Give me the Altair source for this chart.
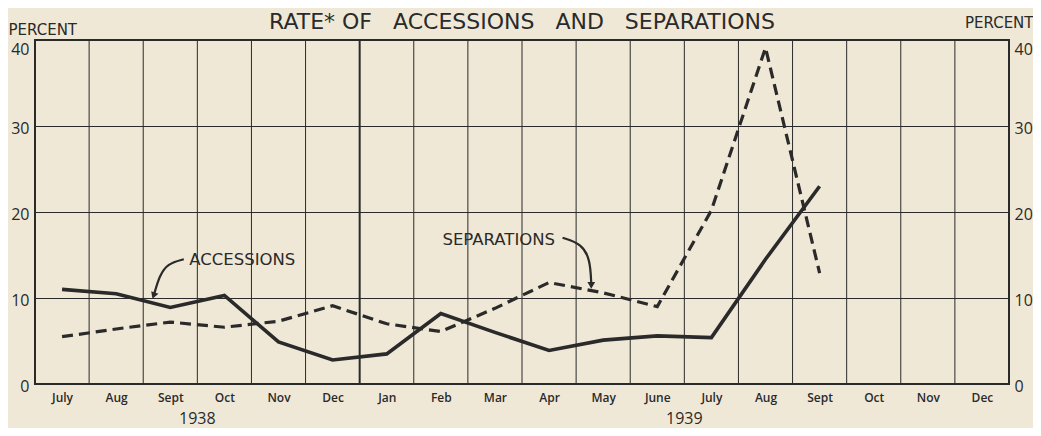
import json
import altair as alt
import pandas as pd

months = ["July", "Aug", "Sept", "Oct", "Nov", "Dec", "Jan", "Feb", "Mar",
          "Apr", "May", "June", "July", "Aug", "Sept", "Oct", "Nov", "Dec"]
accessions = [11.0, 10.5, 8.9, 10.3, 4.9, 2.8, 3.5, 8.2, 6.0, 3.9, 5.1, 5.6, 5.4, 14.5, 23.0]
separations = [5.5, 6.4, 7.2, 6.6, 7.3, 9.1, 7.0, 6.1, 8.8, 11.8, 10.6, 9.0, 20.2, 39.1, 12.9]
y_ticks = [0, 10, 20, 30, 40]
years = ["1938", "1939"]
year_pos = [2.5, 11.5]

BG = "#f0e8d6"
INK = "#2a2a2a"
FONT = "Open Sans"
WIDE = "DejaVu Sans"
W, H = 974, 344
NB = "\u00a0"

rows = []
for i, v in enumerate(accessions):
    rows.append({"idx": i, "value": v, "series": "Accessions"})
for i, v in enumerate(separations):
    rows.append({"idx": i, "value": v, "series": "Separations"})
df = pd.DataFrame(rows)

xscale = alt.Scale(domain=[-0.5, len(months) - 0.5], nice=False, zero=False)
yscale = alt.Scale(domain=[0, 40], nice=False)
label_expr = json.dumps(months) + "[datum.value]"

x_enc = alt.X("idx:Q", scale=xscale,
              axis=alt.Axis(values=list(range(len(months))), labelExpr=label_expr,
                            title=None, ticks=False, grid=False, domain=False,
                            labelFont=FONT, labelFontSize=12, labelColor=INK,
                            labelPadding=8, labelFontWeight=600))

lab_off = {"condition": {"test": "datum.value == 40", "value": 9}, "value": 2}

# vertical month grid lines at month boundaries
bounds = pd.DataFrame({"b": [i + 0.5 for i in range(len(months) - 1)],
                       "yearline": [months[i + 1] == "Jan" for i in range(len(months) - 1)]})
vgrid = alt.Chart(bounds).mark_rule(color=INK).encode(
    x=alt.X("b:Q", scale=xscale),
    strokeWidth=alt.condition("datum.yearline", alt.value(2), alt.value(1)),
)

left_axis_layer = alt.Chart(df).mark_line(opacity=0).encode(
    x=x_enc,
    y=alt.Y("value:Q", scale=yscale,
            axis=alt.Axis(values=y_ticks, grid=True, gridColor=INK, gridWidth=1,
                          ticks=False, domain=False, title="PERCENT",
                          titleAngle=0, titleAlign="left", titleBaseline="bottom",
                          titleX=-27, titleY=-3, titleFont=WIDE, titleFontSize=15,
                          titleFontWeight="normal", titleColor=INK,
                          labelFont=FONT, labelFontSize=16, labelColor=INK,
                          labelPadding=6, labelBaseline="middle",
                          labelOffset=lab_off)),
)

acc = alt.Chart(df[df.series == "Accessions"]).mark_line(
    color=INK, strokeWidth=3.6, strokeJoin="miter").encode(
    x=alt.X("idx:Q", scale=xscale), y=alt.Y("value:Q", scale=yscale))

sep = alt.Chart(df[df.series == "Separations"]).mark_line(
    color=INK, strokeWidth=3.2, strokeDash=[11, 6], strokeJoin="miter").encode(
    x=alt.X("idx:Q", scale=xscale), y=alt.Y("value:Q", scale=yscale))

# annotations
labels = pd.DataFrame({"t": ["ACCESSIONS", "SEPARATIONS"], "x": [2.35, 7.03], "y": [14.4, 16.8]})
ann_text = alt.Chart(labels).mark_text(
    align="left", baseline="middle", font=WIDE, fontSize=16.5, color=INK).encode(
    x=alt.X("x:Q", scale=xscale), y=alt.Y("y:Q", scale=yscale), text="t:N")

arrow_acc = pd.DataFrame({"x": [2.25, 1.95, 1.8, 1.7], "y": [14.5, 14.0, 12.6, 10.4], "o": [0, 1, 2, 3]})
arrow_sep = pd.DataFrame({"x": [9.25, 9.6, 9.76, 9.78], "y": [17.0, 16.3, 14.5, 11.6], "o": [0, 1, 2, 3]})


def arrow(d, ang):
    ln = alt.Chart(d).mark_line(color=INK, strokeWidth=2.2, interpolate="basis").encode(
        x=alt.X("x:Q", scale=xscale), y=alt.Y("y:Q", scale=yscale), order="o:Q")
    head = alt.Chart(d.tail(1)).mark_point(
        shape="triangle", filled=True, color=INK, size=60, angle=ang, opacity=1).encode(
        x=alt.X("x:Q", scale=xscale), y=alt.Y("y:Q", scale=yscale))
    return ln + head


yr = pd.DataFrame({"t": years, "x": year_pos})
year_text = alt.Chart(yr).mark_text(font=FONT, fontSize=16, color=INK, baseline="middle").encode(
    x=alt.X("x:Q", scale=xscale), y=alt.value(H + 35), text="t:N")

title_str = "RATE*" + NB + "OF" + NB * 3 + "ACCESSIONS" + NB * 3 + "AND" + NB * 3 + "SEPARATIONS"
title = alt.Chart(pd.DataFrame({"t": [title_str]})).mark_text(
    font=WIDE, fontSize=22, color=INK, baseline="middle").encode(
    x=alt.value(W / 2), y=alt.value(-18), text="t:N")

left = alt.layer(vgrid, left_axis_layer, sep, acc, ann_text,
                 arrow(arrow_acc, 200), arrow(arrow_sep, 180), year_text, title)

right = alt.Chart(df).mark_point(opacity=0).encode(
    x=alt.X("idx:Q", scale=xscale),
    y=alt.Y("value:Q", scale=alt.Scale(domain=[0, 40], nice=False),
            axis=alt.Axis(orient="right", values=y_ticks, grid=False, ticks=False,
                          domain=False, title="PERCENT", titleAngle=0,
                          titleAlign="right", titleBaseline="bottom",
                          titleX=24, titleY=-10, titleFont=WIDE, titleFontSize=15,
                          titleFontWeight="normal", titleColor=INK,
                          labelFont=FONT, labelFontSize=16, labelColor=INK,
                          labelPadding=5, labelBaseline="middle",
                          labelOffset=lab_off)),
)

chart = alt.layer(left, right).resolve_scale(y="independent").properties(
    width=W, height=H,
    padding={"left": 27, "top": 32, "right": 24, "bottom": 44},
    autosize="none",
    background=BG,
).configure_view(stroke=INK, strokeWidth=2)

chart.save("out.html", embed_options={"renderer": "svg", "actions": False})
